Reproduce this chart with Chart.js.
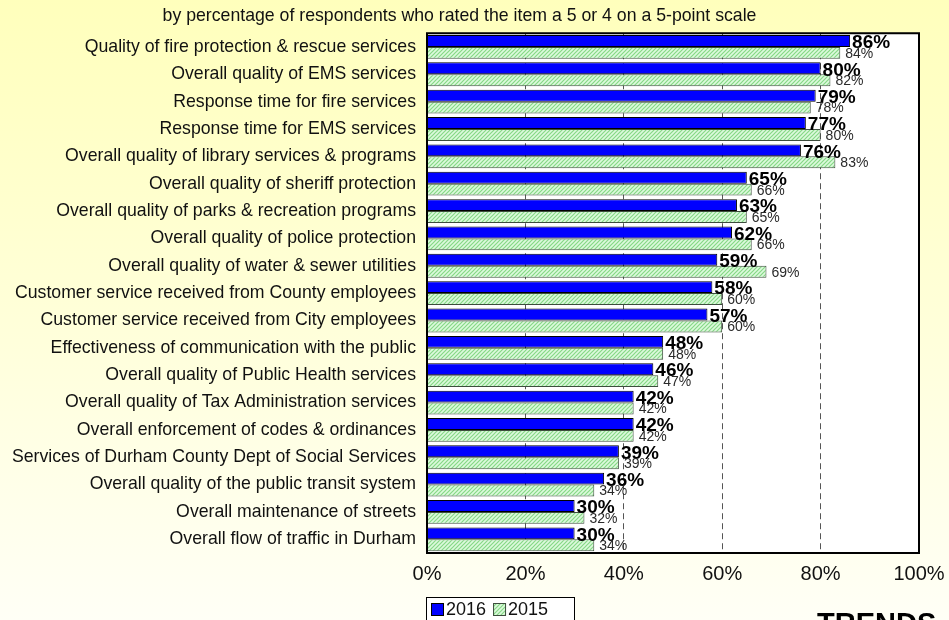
<!DOCTYPE html>
<html>
<head>
<meta charset="utf-8">
<script src="https://cdn.jsdelivr.net/npm/chart.js@4"></script>
<style>
  html, body { margin: 0; padding: 0; }
  body {
    width: 949px; height: 620px; overflow: hidden;
    background: linear-gradient(180deg, #ffffbc 0%, #ffffd8 50%, #fffff6 100%);
  }
  canvas { display: block; }
</style>
</head>
<body>
<canvas id="chart" width="949" height="620"></canvas>
<script>
const categories = [
  'Quality of fire protection & rescue services',
  'Overall quality of EMS services',
  'Response time for fire services',
  'Response time for EMS services',
  'Overall quality of library services & programs',
  'Overall quality of sheriff protection',
  'Overall quality of parks & recreation programs',
  'Overall quality of police protection',
  'Overall quality of water & sewer utilities',
  'Customer service received from County employees',
  'Customer service received from City employees',
  'Effectiveness of communication with the public',
  'Overall quality of Public Health services',
  'Overall quality of Tax Administration services',
  'Overall enforcement of codes & ordinances',
  'Services of Durham County Dept of Social Services',
  'Overall quality of the public transit system',
  'Overall maintenance of streets',
  'Overall flow of traffic in Durham',
];
const values2016 = [86, 80, 79, 77, 76, 65, 63, 62, 59, 58, 57, 48, 46, 42, 42, 39, 36, 30, 30];
const values2015 = [84, 82, 78, 80, 83, 66, 65, 66, 69, 60, 60, 48, 47, 42, 42, 39, 34, 32, 34];
const tickValues = [0, 20, 40, 60, 80, 100];
const subtitle = 'by percentage of respondents who rated the item a 5 or 4 on a 5-point scale';

const FONT = 'Arial, "Liberation Sans", sans-serif';

// hatched light green fill for 2015
function hatch() {
  const c = document.createElement('canvas');
  c.width = 4;
  c.height = 4;
  const g = c.getContext('2d');
  g.fillStyle = '#dcfadc';
  g.fillRect(0, 0, 4, 4);
  g.strokeStyle = '#86d886';
  g.lineWidth = 1.2;
  g.beginPath();
  g.moveTo(-1, 5);
  g.lineTo(5, -1);
  g.moveTo(-1, 1);
  g.lineTo(1, -1);
  g.moveTo(3, 5);
  g.lineTo(5, 3);
  g.stroke();
  return g.createPattern(c, 'repeat');
}
const greenFill = hatch();

// white plot area + black frame
const plotFrame = {
  id: 'plotFrame',
  beforeDraw(chart) {
    const { ctx, chartArea: a } = chart;
    ctx.save();
    ctx.fillStyle = '#ffffff';
    ctx.fillRect(a.left, a.top, a.right - a.left, a.bottom - a.top);
    ctx.restore();
  },
  afterDraw(chart) {
    const { ctx, chartArea: a } = chart;
    ctx.save();
    ctx.strokeStyle = '#000';
    ctx.lineWidth = 2;
    ctx.strokeRect(a.left, a.top, a.right - a.left, a.bottom - a.top);
    ctx.restore();
  },
};

// value labels at the bar ends
const barLabels = {
  id: 'barLabels',
  afterDatasetsDraw(chart) {
    const ctx = chart.ctx;
    ctx.save();
    ctx.textBaseline = 'middle';
    ctx.textAlign = 'left';
    chart.getDatasetMeta(0).data.forEach((bar, i) => {
      ctx.font = 'bold 19px ' + FONT;
      ctx.fillStyle = '#000';
      ctx.fillText(values2016[i] + '%', bar.x + 2, bar.y + 2);
    });
    chart.getDatasetMeta(1).data.forEach((bar, i) => {
      ctx.font = '14px ' + FONT;
      ctx.fillStyle = '#2a2a2a';
      ctx.fillText(values2015[i] + '%', bar.x + 5, bar.y + 1);
    });
    ctx.restore();
  },
};

// boxed legend under the axis
const boxLegend = {
  id: 'boxLegend',
  afterDraw(chart) {
    const ctx = chart.ctx;
    const x = chart.chartArea.left - 1;
    const y = 597;
    ctx.save();
    ctx.fillStyle = '#fff';
    ctx.fillRect(x, y, 148, 30);
    ctx.strokeStyle = '#000';
    ctx.lineWidth = 1;
    ctx.strokeRect(x + 0.5, y + 0.5, 148, 30);
    ctx.font = '18px ' + FONT;
    ctx.textBaseline = 'middle';
    let cx = x + 5;
    chart.data.datasets.forEach((ds) => {
      ctx.fillStyle = ds.backgroundColor;
      ctx.fillRect(cx, y + 6, 13, 13);
      ctx.strokeStyle = ds.borderColor;
      ctx.strokeRect(cx + 0.5, y + 6.5, 12, 12);
      ctx.fillStyle = '#111';
      ctx.fillText(ds.label, cx + 15, y + 13);
      cx += 15 + ctx.measureText(ds.label).width + 7;
    });
    ctx.font = 'bold 29px ' + FONT;
    ctx.fillStyle = '#000';
    ctx.textBaseline = 'alphabetic';
    ctx.fillText('TRENDS', 817, 633);
    ctx.restore();
  },
};

const ctx = document.getElementById('chart').getContext('2d');
// eslint-disable-next-line no-unused-vars
const chart = new Chart(ctx, {
  type: 'bar',
  data: {
    labels: categories,
    datasets: [
      {
        label: '2016',
        data: values2016,
        backgroundColor: '#0000ff',
        borderColor: '#000000',
        borderWidth: 1,
      },
      {
        label: '2015',
        data: values2015,
        backgroundColor: greenFill,
        borderColor: '#3d4d3d',
        borderWidth: 1,
      },
    ],
  },
  options: {
    indexAxis: 'y',
    responsive: false,
    animation: false,
    devicePixelRatio: 1,
    datasets: {
      bar: { categoryPercentage: 0.87, barPercentage: 1.0 },
    },
    layout: { padding: { left: 0, right: 30, top: 0, bottom: 35 } },
    plugins: {
      legend: { display: false },
      tooltip: { enabled: false },
      title: {
        display: true,
        text: subtitle,
        color: '#111',
        font: { family: FONT, size: 17.7, weight: 'normal' },
        padding: { top: 5, bottom: 7 },
      },
    },
    scales: {
      x: {
        min: 0,
        max: 100,
        afterBuildTicks(scale) {
          scale.ticks = tickValues.map((v) => ({ value: v }));
        },
        afterFit(scale) {
          scale.height = 32;
          scale.paddingLeft = 0;
          scale.paddingRight = 0;
        },
        grid: {
          color: '#555',
          lineWidth: 1,
          drawTicks: false,
        },
        border: { display: false, dash: [6, 4] },
        ticks: {
          padding: 9,
          color: '#111',
          font: { family: FONT, size: 20 },
          callback: (v) => v + '%',
        },
      },
      y: {
        afterFit(scale) {
          scale.width = 427;
        },
        grid: { display: false, drawTicks: false },
        border: { display: false },
        ticks: {
          padding: 11,
          color: '#111',
          autoSkip: false,
          font: { family: FONT, size: 17.7 },
        },
      },
    },
  },
  plugins: [plotFrame, barLabels, boxLegend],
});
</script>
</body>
</html>
